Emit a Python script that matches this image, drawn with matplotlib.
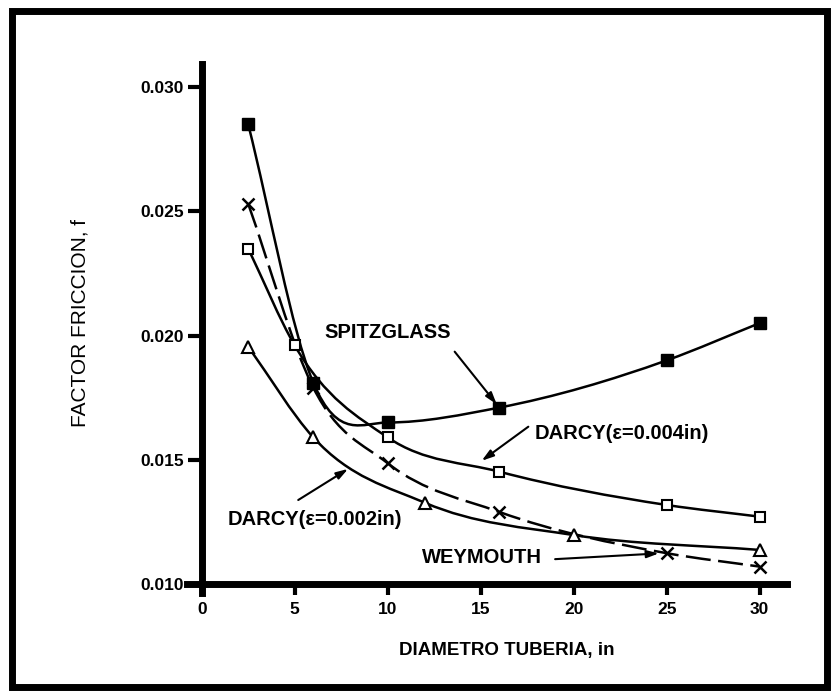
import numpy as np
import matplotlib
matplotlib.use('Agg')
import matplotlib.pyplot as plt
from matplotlib.path import Path
from matplotlib.patches import PathPatch, Rectangle

plt.rcParams['font.family'] = ['Liberation Sans', 'DejaVu Sans']

# values (diameter in, friction factor f)
spitz_d = [2.5, 6, 10, 16, 25, 30]
spitz_f = [0.0285, 0.0181, 0.0165, 0.0171, 0.0190, 0.0205]
darcy4_d = [2.5, 5, 10, 16, 25, 30]
darcy4_f = [0.0235, 0.0196, 0.0159, 0.01452, 0.01318, 0.01271]
darcy2_d = [2.5, 6, 12, 20, 30]
darcy2_f = [0.01955, 0.0159, 0.01327, 0.01197, 0.01137]
weym_d = [2.5, 6, 10, 16, 25, 30]
weym_f = [0.0253, 0.0179, 0.01486, 0.0129, 0.01124, 0.0107]

x_ticks = [0, 5, 10, 15, 20, 25, 30]
y_ticks = [0.010, 0.015, 0.020, 0.025, 0.030]


def smooth_path(x, y):
	"""bezier path through the points (hermite tangents), drawn by matplotlib"""
	x = np.asarray(x, float)
	y = np.asarray(y, float)
	h = np.diff(x)
	d = np.diff(y) / h
	m = np.empty_like(y)
	m[1:-1] = (d[:-1] * h[1:] + d[1:] * h[:-1]) / (h[:-1] + h[1:])
	m[1:-1][d[:-1] * d[1:] < 0] = 0  # flat at a local min/max
	m[0] = d[0]
	m[-1] = d[-1]
	verts = [(x[0], y[0])]
	codes = [Path.MOVETO]
	for i in range(len(h)):
		verts += [(x[i] + h[i] / 3, y[i] + m[i] * h[i] / 3),
				  (x[i + 1] - h[i] / 3, y[i + 1] - m[i + 1] * h[i] / 3),
				  (x[i + 1], y[i + 1])]
		codes += [Path.CURVE4] * 3
	return Path(verts, codes)


fig = plt.figure(figsize=(8.36, 6.98), dpi=100)
ax = fig.add_axes([186.7 / 836, 1 - 593 / 698, 600 / 836, 529 / 698])
ax.set_xlim(-0.806, 31.45)
ax.set_ylim(0.009638, 0.030926)

lw = 1.8
series = [
	(spitz_d, spitz_f, dict(marker='s', ms=8, mfc='black', mec='black'), '-'),
	(darcy4_d, darcy4_f, dict(marker='s', ms=7.5, mfc='white', mec='black', mew=1.5), '-'),
	(darcy2_d, darcy2_f, dict(marker='^', ms=8, mfc='white', mec='black', mew=1.5), '-'),
	(weym_d, weym_f, dict(marker='x', ms=8, mec='black', mew=1.8), (0, (10, 3))),
]
for xs, ys, mk, ls in series:
	ax.add_patch(PathPatch(smooth_path(xs, ys), fill=False, lw=lw, ls=ls, ec='black', zorder=2))
	ax.plot(xs, ys, linestyle='none', zorder=3, **mk)

# annotations
txt = dict(fontsize=14.5, fontweight='bold', va='center')
ax.text(10.0, 0.02014, 'SPITZGLASS', ha='center', **txt)
ax.text(17.9, 0.01606, 'DARCY(ε=0.004in)', ha='left', **txt)
ax.text(1.41, 0.01258, 'DARCY(ε=0.002in)', ha='left', **txt)
ax.text(11.85, 0.01105, 'WEYMOUTH', ha='left', **txt)

arrow = dict(arrowstyle='-|>,head_length=0.7,head_width=0.22', color='black', lw=1.5, shrinkA=0, shrinkB=3)
ax.annotate('', xy=(16, 0.0171), xytext=(13.6, 0.01935), arrowprops=arrow)
ax.annotate('', xy=(14.87, 0.01486), xytext=(17.56, 0.01633), arrowprops=arrow)
ax.annotate('', xy=(8.06, 0.01472), xytext=(5.19, 0.01338), arrowprops=arrow)
ax.annotate('', xy=(24.8, 0.01124), xytext=(19.0, 0.0110), arrowprops=arrow)

# axes styling
for s in ['top', 'right']:
	ax.spines[s].set_visible(False)
ax.spines['left'].set_position(('data', 0))
ax.spines['bottom'].set_position(('data', 0.010))
ax.spines['left'].set_linewidth(5)
ax.spines['bottom'].set_linewidth(5)
ax.set_xticks(x_ticks)
ax.set_yticks(y_ticks)
ax.set_yticklabels([f'{v:.3f}' for v in y_ticks])
ax.tick_params(axis='x', direction='out', length=8, width=3, pad=5, labelsize=12.5)
ax.tick_params(axis='y', direction='out', length=10, width=3, pad=3, labelsize=12.5)
for lab in ax.get_xticklabels() + ax.get_yticklabels():
	lab.set_fontweight('bold')

fig.text(507 / 836, 1 - 650 / 698, 'DIAMETRO TUBERIA, in', ha='center', va='center',
		 fontsize=13.5, fontweight='bold')
fig.text(80 / 836, 1 - 323 / 698, 'FACTOR FRICCION, f', ha='center', va='center',
		 rotation=90, fontsize=15)

# thick outer frame
fig.add_artist(Rectangle((11.5 / 836, 1 - 687 / 698), (827 - 11.5) / 836, (687 - 11) / 698,
						 transform=fig.transFigure, fill=False, lw=5, ec='black'))

fig.savefig('out.png', dpi=100)
